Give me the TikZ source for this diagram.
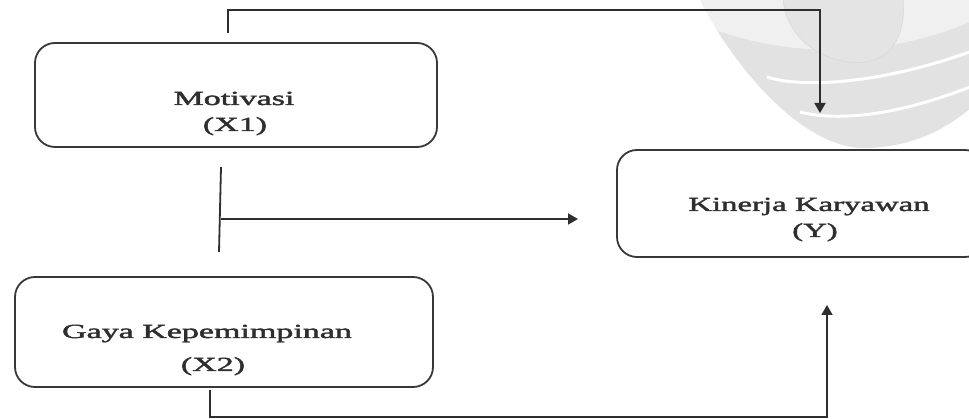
\documentclass[tikz,border=0pt]{standalone}
\usepackage{fontspec}
\setmainfont{Liberation Serif}
\newfontfamily\lblfont{Liberation Serif}[FakeBold=1.6]
\usetikzlibrary{arrows.meta}
\begin{document}
\begin{tikzpicture}[x=1pt,y=-1pt,
  box/.style={draw=black!78,line width=1.8pt,rounded corners=20pt,inner sep=0pt},
  txt/.style={anchor=base,inner sep=0pt,font=\lblfont\fontsize{20}{22}\selectfont,text=black!82},
  conn/.style={draw=black!82,line width=1.8pt},
  arr/.style={conn,-{Triangle[length=10pt,width=11pt]}}]
\useasboundingbox (0,0) rectangle (969,419);
% watermark
\begin{scope}
\clip (0,0) rectangle (969,419);
\path[clip] (700,0) .. controls (730,60) and (800,150) .. (867,148) .. controls (920,146) and (950,125) .. (975,105) -- (975,0) -- cycle;
\fill[gray!12] (690,0) rectangle (975,160);
\fill[gray!23] (710,28) .. controls (780,55) and (880,62) .. (975,20) -- (975,160) -- (690,160) -- cycle;
\fill[gray!21,draw=gray!30,line width=0.6pt] (783,-1) .. controls (788,50) and (840,66) .. (865,62) .. controls (895,58) and (906,30) .. (903,-1) -- cycle;
\draw[white,line width=3pt] (767,77) .. controls (800,88) and (880,85) .. (975,50);
\draw[white,line width=3pt] (800,112) .. controls (840,122) and (900,115) .. (975,85);
\end{scope}
% boxes
\node[box,minimum width=402pt,minimum height=104pt] (mot) at (236,95) {};
\node[box,minimum width=368pt,minimum height=107pt] (kin) at (801,203.5) {};
\node[box,minimum width=418pt,minimum height=110pt] (gaya) at (224,332) {};
% texts
\node[txt] (motA) at (234,105) {\scalebox{1.7}[1]{Motivasi}};
\node[txt] (motB) at (235,131) {\scalebox{1.7}[1]{(X1)}};
\node[txt] (kinA) at (809,211) {\scalebox{1.64}[1]{Kinerja Karyawan}};
\node[txt] (kinB) at (815,237) {\scalebox{1.64}[1]{(Y)}};
\node[txt] (gayaA) at (207,338) {\scalebox{1.7}[1]{Gaya Kepemimpinan}};
\node[txt] (gayaB) at (213,371) {\scalebox{1.7}[1]{(X2)}};
% connector coordinates
\coordinate (a1) at (228,33);
\coordinate (a2) at (820,10);
\coordinate (a3) at (820,113);
\coordinate (b1) at (221,167);
\coordinate (b2) at (219,252);
\coordinate (b3) at (221,219);
\coordinate (b4) at (578,219);
\coordinate (c1) at (210,390);
\coordinate (c2) at (827,417);
\coordinate (c3) at (827,305);
% connectors
\draw[arr] (a1) |- (a2) -- (a3);
\draw[conn] (b1) -- (b2);
\draw[arr] (b3) -- (b4);
\draw[arr] (c1) |- (c2) -- (c3);
\end{tikzpicture}
\end{document}
